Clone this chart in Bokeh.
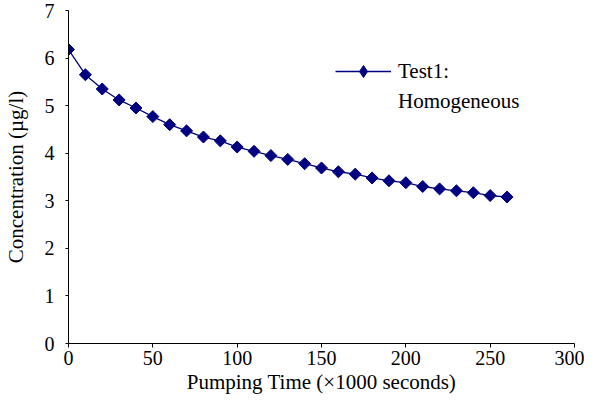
from bokeh.plotting import figure
from bokeh.models import Range1d, Legend, LegendItem, FixedTicker
from bokeh.embed import file_html
from bokeh.resources import INLINE
import math

# Data
time_k_sec = [0, 10, 20, 30, 40, 50, 60, 70, 80, 90, 100, 110, 120, 130,
              140, 150, 160, 170, 180, 190, 200, 210, 220, 230, 240, 250, 260]
concentration = [6.18, 5.65, 5.35, 5.12, 4.95, 4.77, 4.60, 4.47, 4.34, 4.26,
                 4.13, 4.04, 3.95, 3.87, 3.78, 3.69, 3.61, 3.56, 3.48, 3.42,
                 3.38, 3.30, 3.25, 3.21, 3.17, 3.11, 3.08]
legend_lines = ["Test1:", "Homogeneous"]
x_ticks = [0, 50, 100, 150, 200, 250, 300]
y_ticks = [0, 1, 2, 3, 4, 5, 6, 7]

FONT = "Liberation Serif"
NAVY = "#000080"

p = figure(width=584, height=396,
           min_border_left=62, min_border_right=10,
           min_border_top=10, min_border_bottom=50,
           x_range=Range1d(0, 300), y_range=Range1d(0, 7),
           output_backend="svg", toolbar_location=None, title=" ")
p.title.text_font = FONT
p.title.text_font_size = "1px"
p.title.standoff = 0
p.title.offset = 0
p.outline_line_color = None
p.grid.visible = False

line = p.line(time_k_sec, concentration, line_color=NAVY, line_width=1.3)
pts = p.scatter(time_k_sec, concentration, marker="square", size=8.5,
                angle=math.pi / 4, fill_color=NAVY, line_color=NAVY)
# legend proxies (draw nothing in the plot)
proxy_diamond = p.scatter([float("nan")], [float("nan")], marker="diamond",
                          fill_color=NAVY, line_color=NAVY)
proxy_blank = p.line([], [], line_alpha=0)

p.xaxis.ticker = FixedTicker(ticks=x_ticks)
p.yaxis.ticker = FixedTicker(ticks=y_ticks)
p.xaxis.axis_label = "Pumping Time (×1000 seconds)"
p.yaxis.axis_label = "Concentration (µg/l)"

for axes in (p.xaxis, p.yaxis):
    axes.major_label_text_font = FONT
    axes.axis_label_text_font = FONT
    axes.major_label_text_font_size = "20px"
    axes.axis_label_text_font_size = "21px"
    axes.axis_label_text_font_style = "normal"
    axes.axis_line_color = "black"
    axes.major_tick_line_color = "black"
    axes.major_label_text_color = "black"
    axes.axis_label_text_color = "black"
    axes.minor_tick_line_color = None
    axes.major_tick_in = 0

p.xaxis.major_tick_out = 4
p.yaxis.major_tick_out = 3
p.xaxis.major_label_standoff = 3
p.xaxis.axis_label_standoff = 2
p.yaxis.major_label_standoff = 11
p.yaxis.axis_label_standoff = 14

legend = Legend(items=[LegendItem(label=legend_lines[0], renderers=[line, proxy_diamond]),
                       LegendItem(label=legend_lines[1], renderers=[proxy_blank])],
                location=(267, 227), orientation="vertical",
                glyph_width=56, glyph_height=30, label_standoff=7,
                padding=0, margin=0, spacing=-9,
                border_line_color=None, background_fill_alpha=0,
                label_text_font=FONT, label_text_font_size="21px",
                label_text_color="black")
p.add_layout(legend)

open("out.html", "w").write(file_html(p, INLINE))
